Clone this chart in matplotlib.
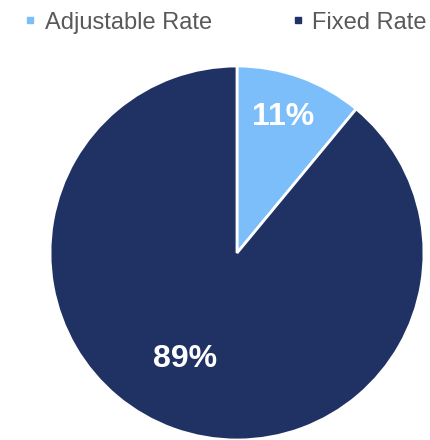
import matplotlib
matplotlib.use('Agg')
import matplotlib.pyplot as plt
from matplotlib.lines import Line2D
import numpy as np

plt.rcParams['font.family'] = ['Liberation Sans', 'DejaVu Sans']

# mortgage mix
labels = ['Adjustable Rate', 'Fixed Rate']
shares = [11, 89]
colors = ['#7CBEFA', '#1F3263']

fig = plt.figure(figsize=(4.31, 4.40), dpi=100)
ax = fig.add_axes([50 / 431, 0.0, 374 / 431, 374 / 440])

wedges, _ = ax.pie(shares, colors=colors, startangle=90, counterclock=False,
                   radius=1.0, wedgeprops=dict(edgecolor='white', linewidth=2))
ax.set_xlim(-1, 1)
ax.set_ylim(-1, 1)
ax.set_aspect('equal')
ax.axis('off')

# percentage labels, pushed a little off the slice centre
label_pos = [(0.77, 71.4), (0.63, 243.6)]
for val, (r, ang) in zip(shares, label_pos):
    a = np.deg2rad(ang)
    ax.text(r * np.cos(a), r * np.sin(a), f'{val}%', color='white',
            family='Liberation Sans', fontsize=23, fontweight='bold',
            ha='center', va='center')

handles = [Line2D([], [], marker='s', linestyle='none', markersize=5,
                  color=c) for c in colors]
fig.legend(handles, labels, loc='upper left', bbox_to_anchor=(0.035, 0.995),
           ncol=2, frameon=False, fontsize=17, labelcolor='#595959',
           handlelength=0.5, handletextpad=0.35, columnspacing=3.4,
           borderaxespad=0)

fig.savefig('out.png', dpi=100)
